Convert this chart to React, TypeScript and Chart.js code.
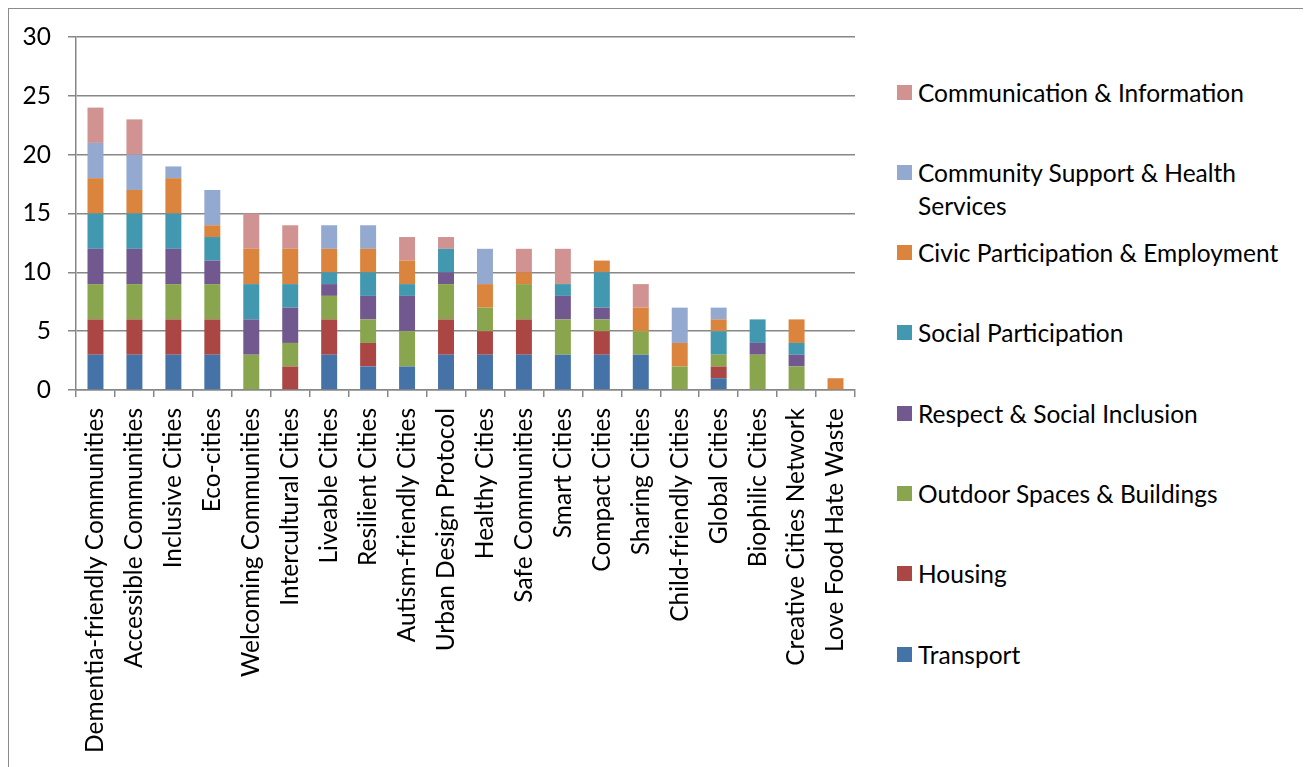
import React, { useEffect, useRef } from "react";
import { Chart, registerables } from "chart.js";

Chart.register(...registerables);

const categories = [
  "Dementia-friendly Communities",
  "Accessible Communities",
  "Inclusive Cities",
  "Eco-cities",
  "Welcoming Communities",
  "Intercultural Cities",
  "Liveable Cities",
  "Resilient Cities",
  "Autism-friendly Cities",
  "Urban Design Protocol",
  "Healthy Cities",
  "Safe Communities",
  "Smart Cities",
  "Compact Cities",
  "Sharing Cities",
  "Child-friendly Cities",
  "Global Cities",
  "Biophilic Cities",
  "Creative Cities Network",
  "Love Food Hate Waste",
];

const transport = [3, 3, 3, 3, 0, 0, 3, 2, 2, 3, 3, 3, 3, 3, 3, 0, 1, 0, 0, 0];
const housing = [3, 3, 3, 3, 0, 2, 3, 2, 0, 3, 2, 3, 0, 2, 0, 0, 1, 0, 0, 0];
const outdoor = [3, 3, 3, 3, 3, 2, 2, 2, 3, 3, 2, 3, 3, 1, 2, 2, 1, 3, 2, 0];
const respect = [3, 3, 3, 2, 3, 3, 1, 2, 3, 1, 0, 0, 2, 1, 0, 0, 0, 1, 1, 0];
const social = [3, 3, 3, 2, 3, 2, 1, 2, 1, 2, 0, 0, 1, 3, 0, 0, 2, 2, 1, 0];
const civic = [3, 2, 3, 1, 3, 3, 2, 2, 2, 0, 2, 1, 0, 1, 2, 2, 1, 0, 2, 1];
const community = [3, 3, 1, 3, 0, 0, 2, 2, 0, 0, 3, 0, 0, 0, 0, 3, 1, 0, 0, 0];
const communication = [3, 3, 0, 0, 3, 2, 0, 0, 2, 1, 0, 2, 3, 0, 2, 0, 0, 0, 0, 0];

const seriesNames = [
  "Transport",
  "Housing",
  "Outdoor Spaces & Buildings",
  "Respect & Social Inclusion",
  "Social Participation",
  "Civic Participation & Employment",
  "Community Support & Health Services",
  "Communication & Information",
];
const seriesData = [transport, housing, outdoor, respect, social, civic, community, communication];
const seriesColors = ["#4572A7", "#AA4643", "#89A54E", "#71588F", "#4198AF", "#DB843D", "#93A9CF", "#D19392"];

const yMin = 0;
const yMax = 30;
const yStep = 5;

const FONT = "Lato, 'Open Sans', sans-serif";
const FONT_SIZE = 24.5;
const GRID = "#878787";

export default function App() {
  const ref = useRef<HTMLCanvasElement>(null);

  useEffect(() => {
    const chart = new Chart(ref.current!, {
      type: "bar",
      data: {
        labels: categories,
        datasets: seriesNames.map((name, i) => ({
          label: name,
          data: seriesData[i],
          backgroundColor: seriesColors[i],
          borderWidth: 0,
          barPercentage: 0.41,
          categoryPercentage: 1,
        })),
      },
      options: {
        responsive: false,
        animation: false,
        layout: { padding: { top: 29, right: 23, left: 0, bottom: 0 } },
        plugins: { legend: { display: false }, tooltip: { enabled: false } },
        scales: {
          x: {
            stacked: true,
            grid: { drawOnChartArea: false, tickLength: 7, color: GRID, lineWidth: 1.5 },
            border: { color: GRID, width: 1.5 },
            ticks: {
              maxRotation: 90,
              minRotation: 90,
              autoSkip: false,
              padding: 11,
              color: "#000",
              font: { family: FONT, size: FONT_SIZE },
            },
            afterFit: (s: any) => {
              s.height = 377;
              s.paddingLeft = 0;
              s.paddingRight = 0;
            },
          },
          y: {
            stacked: true,
            min: yMin,
            max: yMax,
            grid: { tickLength: 8, color: GRID, lineWidth: 1.5 },
            border: { color: GRID, width: 1.5 },
            ticks: {
              stepSize: yStep,
              padding: 17,
              color: "#000",
              font: { family: FONT, size: FONT_SIZE },
            },
            afterFit: (s: any) => {
              s.width = 68;
              s.paddingTop = 0;
              s.paddingBottom = 0;
            },
          },
        },
      },
    });
    return () => chart.destroy();
  }, []);

  const legendOrder = seriesNames.map((_, i) => i).reverse();

  return (
    <div style={{ position: "relative", width: 1300, height: 759, fontFamily: FONT }}>
      <div
        style={{
          position: "absolute",
          left: -1,
          top: -1,
          width: 1301,
          height: 760,
          borderLeft: "2px solid #8c8c8c",
          borderTop: "2px solid #8c8c8c",
          borderRight: "2px solid #8c8c8c",
          boxSizing: "border-box",
        }}
      />
      <canvas ref={ref} width={870} height={759} style={{ position: "absolute", left: 0, top: 0, display: "block" }} />
      {legendOrder.map((si, k) => (
        <div
          key={si}
          style={{
            position: "absolute",
            left: 889,
            top: 84 + k * 80.3 - 16.5,
            display: "flex",
            alignItems: "flex-start",
            width: 400,
          }}
        >
          <div
            style={{
              width: 15,
              height: 15,
              marginTop: 9,
              background: seriesColors[si],
              flex: "none",
            }}
          />
          <div style={{ marginLeft: 6, fontSize: FONT_SIZE, lineHeight: "33px", color: "#000", width: 375 }}>
            {seriesNames[si]}
          </div>
        </div>
      ))}
    </div>
  );
}
